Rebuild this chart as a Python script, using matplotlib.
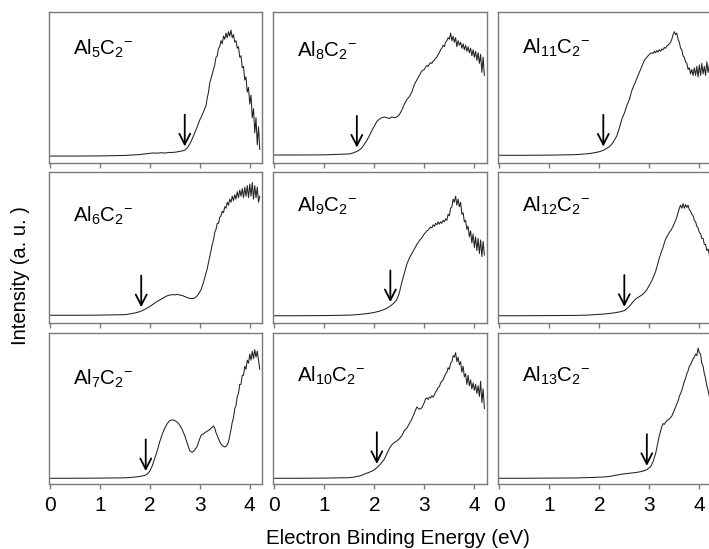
import numpy as np
import matplotlib
matplotlib.use('Agg')
import matplotlib.pyplot as plt

plt.rcParams['font.family'] = ['Liberation Sans', 'DejaVu Sans']
plt.rcParams['mathtext.fontset'] = 'custom'
plt.rcParams['mathtext.rm'] = 'Liberation Sans'
plt.rcParams['mathtext.it'] = 'Liberation Sans'
plt.rcParams['mathtext.default'] = 'rm'

# ---------------- data ----------------
E_LO = [0.0, 0.5, 1.0, 1.5, 1.55, 1.6, 1.65, 1.7, 1.75, 1.8, 1.85, 1.9, 1.95, 2.0,
        2.05, 2.1, 2.15, 2.2, 2.25, 2.3, 2.35, 2.4, 2.45, 2.5, 2.55, 2.6, 2.65,
        2.7, 2.75, 2.8, 2.85, 2.9, 2.95, 3.0]
E_HI = [3.025, 3.05, 3.075, 3.1, 3.125, 3.15, 3.175, 3.2, 3.225, 3.25, 3.275, 3.3,
        3.325, 3.35, 3.375, 3.4, 3.425, 3.45, 3.475, 3.5, 3.525, 3.55, 3.575, 3.6,
        3.625, 3.65, 3.675, 3.7, 3.725, 3.75, 3.775, 3.8, 3.825, 3.85, 3.875, 3.9,
        3.925, 3.95, 3.975, 4.0, 4.025, 4.05, 4.075, 4.1, 4.125, 4.15, 4.175, 4.2]

al5_lo = [0.046, 0.046, 0.047, 0.050, 0.051, 0.052, 0.053, 0.054, 0.055, 0.056, 0.058,
          0.060, 0.062, 0.064, 0.066, 0.066, 0.065, 0.067, 0.068, 0.066, 0.068, 0.070,
          0.070, 0.071, 0.074, 0.077, 0.080, 0.085, 0.100, 0.125, 0.160, 0.200, 0.240, 0.285]
al5_hi = [0.30, 0.32, 0.34, 0.36, 0.38, 0.43, 0.47, 0.53, 0.56, 0.59, 0.62, 0.65, 0.70,
          0.71, 0.76, 0.77, 0.81, 0.79, 0.84, 0.82, 0.86, 0.83, 0.87, 0.84, 0.88, 0.83,
          0.85, 0.80, 0.81, 0.76, 0.77, 0.70, 0.71, 0.63, 0.64, 0.55, 0.57, 0.47, 0.50,
          0.39, 0.45, 0.30, 0.36, 0.20, 0.30, 0.12, 0.24, 0.09]

al6_lo = [0.051, 0.051, 0.052, 0.055, 0.057, 0.060, 0.063, 0.066, 0.070, 0.075, 0.082,
          0.090, 0.100, 0.108, 0.120, 0.132, 0.143, 0.152, 0.162, 0.172, 0.180, 0.185,
          0.188, 0.186, 0.190, 0.185, 0.182, 0.175, 0.168, 0.163, 0.162, 0.165, 0.180, 0.205]
al6_hi = [0.22, 0.245, 0.27, 0.30, 0.33, 0.36, 0.40, 0.44, 0.48, 0.52, 0.55, 0.60, 0.62,
          0.66, 0.66, 0.70, 0.71, 0.74, 0.73, 0.77, 0.76, 0.80, 0.78, 0.82, 0.80, 0.84,
          0.81, 0.85, 0.82, 0.87, 0.83, 0.88, 0.84, 0.89, 0.83, 0.90, 0.84, 0.91, 0.83,
          0.92, 0.84, 0.93, 0.82, 0.91, 0.83, 0.90, 0.80, 0.84]

al7_lo = [0.038, 0.038, 0.039, 0.041, 0.042, 0.043, 0.044, 0.046, 0.048, 0.050, 0.053,
          0.057, 0.065, 0.085, 0.120, 0.170, 0.220, 0.280, 0.330, 0.370, 0.400, 0.420,
          0.425, 0.420, 0.410, 0.390, 0.360, 0.320, 0.270, 0.220, 0.210, 0.225, 0.250, 0.300]
al7_hi = [0.32, 0.33, 0.33, 0.34, 0.345, 0.35, 0.355, 0.36, 0.37, 0.375, 0.385, 0.37,
          0.34, 0.32, 0.30, 0.28, 0.265, 0.255, 0.25, 0.245, 0.25, 0.26, 0.28, 0.32,
          0.36, 0.41, 0.44, 0.50, 0.52, 0.58, 0.60, 0.66, 0.66, 0.72, 0.72, 0.78, 0.76,
          0.82, 0.80, 0.86, 0.82, 0.88, 0.83, 0.89, 0.84, 0.88, 0.82, 0.76]

al8_lo = [0.053, 0.053, 0.054, 0.060, 0.064, 0.070, 0.077, 0.086, 0.100, 0.125, 0.150,
          0.180, 0.215, 0.245, 0.275, 0.290, 0.300, 0.305, 0.300, 0.295, 0.305, 0.300,
          0.305, 0.320, 0.350, 0.390, 0.420, 0.440, 0.470, 0.520, 0.550, 0.580, 0.610, 0.620]
al8_hi = [0.635, 0.645, 0.64, 0.655, 0.665, 0.66, 0.675, 0.68, 0.695, 0.70, 0.72, 0.73,
          0.75, 0.76, 0.78, 0.77, 0.80, 0.81, 0.83, 0.82, 0.86, 0.81, 0.84, 0.80, 0.83,
          0.77, 0.81, 0.78, 0.80, 0.76, 0.79, 0.75, 0.78, 0.74, 0.77, 0.73, 0.76, 0.71,
          0.75, 0.70, 0.74, 0.68, 0.73, 0.66, 0.72, 0.60, 0.70, 0.58]

al9_lo = [0.048, 0.048, 0.049, 0.052, 0.053, 0.054, 0.055, 0.057, 0.058, 0.060, 0.062,
          0.064, 0.067, 0.070, 0.074, 0.078, 0.084, 0.090, 0.098, 0.108, 0.120, 0.135,
          0.155, 0.200, 0.270, 0.330, 0.390, 0.430, 0.460, 0.490, 0.520, 0.545, 0.565, 0.590]
al9_hi = [0.60, 0.61, 0.615, 0.625, 0.635, 0.63, 0.65, 0.64, 0.66, 0.65, 0.67, 0.655,
          0.67, 0.66, 0.68, 0.67, 0.69, 0.68, 0.72, 0.71, 0.76, 0.77, 0.82, 0.80, 0.84,
          0.78, 0.82, 0.77, 0.80, 0.72, 0.73, 0.67, 0.68, 0.62, 0.64, 0.57, 0.61, 0.53,
          0.59, 0.50, 0.57, 0.48, 0.56, 0.46, 0.55, 0.44, 0.54, 0.45]

al10_lo = [0.038, 0.038, 0.039, 0.042, 0.044, 0.046, 0.050, 0.053, 0.058, 0.065, 0.072,
           0.078, 0.085, 0.095, 0.108, 0.125, 0.143, 0.165, 0.200, 0.235, 0.260, 0.275,
           0.285, 0.300, 0.320, 0.355, 0.370, 0.400, 0.430, 0.470, 0.510, 0.495, 0.505, 0.540]
al10_hi = [0.565, 0.57, 0.56, 0.575, 0.57, 0.585, 0.575, 0.59, 0.61, 0.62, 0.64, 0.645,
           0.67, 0.68, 0.69, 0.71, 0.73, 0.74, 0.77, 0.76, 0.80, 0.81, 0.85, 0.84, 0.87,
           0.81, 0.84, 0.79, 0.81, 0.74, 0.78, 0.71, 0.73, 0.66, 0.72, 0.65, 0.69, 0.63,
           0.67, 0.62, 0.66, 0.60, 0.65, 0.58, 0.68, 0.54, 0.63, 0.50]

al11_lo = [0.051, 0.051, 0.052, 0.055, 0.056, 0.057, 0.058, 0.060, 0.061, 0.063, 0.065,
           0.068, 0.071, 0.075, 0.080, 0.087, 0.097, 0.108, 0.125, 0.150, 0.180, 0.230,
           0.290, 0.330, 0.380, 0.420, 0.480, 0.520, 0.560, 0.600, 0.640, 0.680, 0.700, 0.720]
al11_hi = [0.725, 0.73, 0.725, 0.74, 0.73, 0.745, 0.735, 0.75, 0.74, 0.755, 0.75, 0.765,
           0.76, 0.775, 0.78, 0.79, 0.80, 0.82, 0.85, 0.87, 0.85, 0.86, 0.82, 0.80, 0.76,
           0.75, 0.71, 0.70, 0.67, 0.66, 0.62, 0.63, 0.59, 0.62, 0.58, 0.63, 0.58, 0.64,
           0.57, 0.65, 0.58, 0.66, 0.59, 0.64, 0.58, 0.67, 0.60, 0.65]

al12_lo = [0.048, 0.048, 0.049, 0.050, 0.050, 0.051, 0.051, 0.052, 0.052, 0.053, 0.054,
           0.055, 0.056, 0.057, 0.058, 0.060, 0.061, 0.063, 0.065, 0.067, 0.070, 0.073,
           0.077, 0.082, 0.095, 0.110, 0.130, 0.150, 0.165, 0.175, 0.185, 0.200, 0.220, 0.250]
al12_hi = [0.265, 0.28, 0.30, 0.32, 0.34, 0.37, 0.40, 0.43, 0.455, 0.48, 0.50, 0.53,
           0.555, 0.57, 0.585, 0.60, 0.61, 0.625, 0.64, 0.66, 0.68, 0.70, 0.73, 0.76,
           0.78, 0.76, 0.79, 0.76, 0.785, 0.765, 0.78, 0.75, 0.74, 0.72, 0.71, 0.68,
           0.67, 0.64, 0.63, 0.60, 0.59, 0.56, 0.56, 0.52, 0.52, 0.48, 0.49, 0.45]

al13_lo = [0.038, 0.038, 0.039, 0.040, 0.040, 0.041, 0.041, 0.042, 0.042, 0.043, 0.043,
           0.044, 0.045, 0.045, 0.046, 0.047, 0.048, 0.050, 0.053, 0.056, 0.059, 0.062,
           0.065, 0.067, 0.069, 0.071, 0.073, 0.075, 0.077, 0.080, 0.084, 0.088, 0.095, 0.108]
al13_hi = [0.115, 0.13, 0.15, 0.175, 0.20, 0.24, 0.28, 0.32, 0.35, 0.38, 0.40, 0.395,
           0.41, 0.42, 0.425, 0.43, 0.44, 0.45, 0.47, 0.49, 0.51, 0.53, 0.55, 0.58, 0.60,
           0.62, 0.65, 0.68, 0.70, 0.73, 0.75, 0.78, 0.79, 0.81, 0.83, 0.84, 0.86, 0.85,
           0.90, 0.87, 0.86, 0.80, 0.78, 0.73, 0.70, 0.65, 0.62, 0.58]

cluster_sizes = [5, 6, 7, 8, 9, 10, 11, 12, 13]
arrow_energies = [2.70, 1.83, 1.92, 1.65, 2.32, 2.05, 2.08, 2.50, 2.95]
x_ticks = [0, 1, 2, 3, 4]

spectra = [
    (al5_lo, al5_hi), (al6_lo, al6_hi), (al7_lo, al7_hi),
    (al8_lo, al8_hi), (al9_lo, al9_hi), (al10_lo, al10_hi),
    (al11_lo, al11_hi), (al12_lo, al12_hi), (al13_lo, al13_hi),
]

# ---------------- layout ----------------
fig = plt.figure(figsize=(7.09, 5.49), dpi=100)
col_left = [0.0687, 0.3855, 0.7028]
row_bottom = [0.7031, 0.4117, 0.1184]
ax_w, ax_h = 0.3012, 0.2750
label_y = [0.715, 0.67, 0.656, 0.704, 0.737, 0.68, 0.727, 0.737, 0.68]

spine_col = '#7a7a7a'
line_col = '#222222'

E = np.array(E_LO + E_HI)
for idx, (lo, hi) in enumerate(spectra):
    col, row = divmod(idx, 3)
    ax = fig.add_axes([col_left[col], row_bottom[row], ax_w, ax_h])
    y = np.array(lo + hi)
    ax.plot(E, y, color=line_col, lw=0.75)
    ax.set_xlim(-0.02, 4.25)
    ax.set_ylim(0, 1)
    ax.set_yticks([])
    ax.set_xticks(x_ticks)
    ax.tick_params(axis='x', direction='out', length=3.8, width=1.0,
                   color=spine_col, labelsize=15, pad=5,
                   labelbottom=(row == 2))
    for s in ax.spines.values():
        s.set_color(spine_col)
        s.set_linewidth(1.0)
    n = cluster_sizes[idx]
    ax.text(0.112, label_y[idx], r'Al$_{%d}$C$_{2}{}^{-}$' % n,
            transform=ax.transAxes, fontsize=14.8, va='baseline', ha='left')
    ea = arrow_energies[idx]
    tip = np.interp(ea, E, y) + 0.025
    ax.annotate('', xy=(ea, tip), xytext=(ea, tip + 0.21),
                arrowprops=dict(arrowstyle='->,head_length=0.55,head_width=0.28',
                                lw=1.3, color='black', shrinkA=0, shrinkB=0,
                                mutation_scale=14))

fig.text(0.029, 0.498, 'Intensity (a. u. )', rotation=90, fontsize=14.5,
         ha='center', va='center')
fig.text(0.5607, 0.009, 'Electron Binding Energy (eV)', fontsize=14.8,
         ha='center', va='baseline')

fig.savefig('out.png', dpi=100)
